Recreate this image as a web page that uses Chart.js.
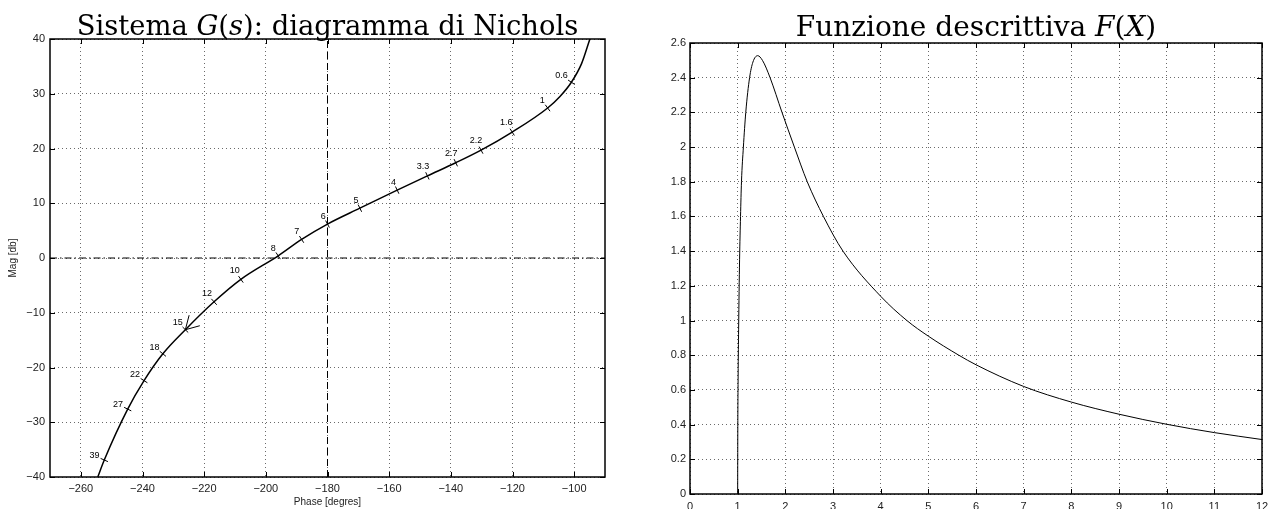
<!DOCTYPE html>
<html>
<head>
<meta charset="utf-8">
<script src="https://cdn.jsdelivr.net/npm/chart.js@4.4.0/dist/chart.umd.min.js"></script>
<style>
  html, body { margin: 0; padding: 0; background: #fff; overflow: hidden; }
  #nichols { position: absolute; left: 0; top: 0; }
  #descr { position: absolute; left: 630px; top: 0; }
</style>
</head>
<body>
<canvas id="nichols" width="620" height="509"></canvas>
<canvas id="descr" width="647" height="509"></canvas>
<script>
// --- Nichols curve of G(s) (phase in degrees, magnitude in dB)
const curvePhase = [-254.5, -252.4, -244.8, -239.5, -233.4, -226.1, -216.8, -208.1, -196.0, -188.4, -180.0,
                    -169.5, -157.4, -147.6, -138.4, -130.2, -120.1, -108.6, -104.6, -100.9, -97.6, -94.9];
const curveMag   = [-40, -36.9, -27.6, -22.4, -17.5, -13.1, -8.0, -3.9, 0.4, 3.4, 6.2,
                    9.1, 12.4, 15.0, 17.4, 19.7, 23.0, 27.4, 29.5, 32.1, 35.5, 40];

// frequency marks along the curve
const freqLabels = ['39', '27', '22', '18', '15', '12', '10', '8', '7', '6', '5', '4', '3.3', '2.7', '2.2', '1.6', '1', '0.6'];
const freqPhase  = [-252.4, -244.8, -239.5, -233.4, -226.1, -216.8, -208.1, -196.0, -188.4, -180.0, -169.5,
                    -157.4, -147.6, -138.4, -130.2, -120.1, -108.6, -100.9];
const freqMag    = [-36.9, -27.6, -22.4, -17.5, -13.1, -8.0, -3.9, 0.4, 3.4, 6.2, 9.1,
                    12.4, 15.0, 17.4, 19.7, 23.0, 27.4, 32.1];
const arrowAt = '15';

const critPhase = -180;
const critMag = 0;
const phaseTicks = [-260, -240, -220, -200, -180, -160, -140, -120, -100];
const magTicks = [-40, -30, -20, -10, 0, 10, 20, 30, 40];

// --- describing function F(X)
const fX = [1.0, 1.002, 1.01, 1.02, 1.04, 1.06, 1.08, 1.12, 1.17, 1.25, 1.32, 1.42, 1.52, 1.68, 1.93,
            2.19, 2.46, 2.80, 3.21, 4, 4.55, 5, 5.64, 6, 7, 8, 9, 10, 11, 12];
const fY = [0, 0.3, 0.68, 0.95, 1.35, 1.6, 1.8, 2.0, 2.2, 2.4, 2.49, 2.527, 2.5, 2.4, 2.2,
            2.0, 1.8, 1.6, 1.4, 1.14, 1.0, 0.91, 0.8, 0.745, 0.62, 0.53, 0.46, 0.402, 0.354, 0.314];
const xTicksF = [0, 1, 2, 3, 4, 5, 6, 7, 8, 9, 10, 11, 12];
const yTicksF = [0, 0.2, 0.4, 0.6, 0.8, 1, 1.2, 1.4, 1.6, 1.8, 2, 2.2, 2.4, 2.6];

const sans = "'Liberation Sans', Arial, sans-serif";
const serif = "'DejaVu Serif', serif";
Chart.defaults.color = '#222';
Chart.defaults.animation = false;

const minus = v => v < 0 ? '\u2212' + Math.abs(v) : String(v);
const fixedTicks = list => scale => { scale.ticks = list.map(v => ({ value: v })); };

// tangent of the Nichols curve in pixel space, near a given phase
function curveTangent(xs, ys, phase) {
  let k = 0, best = Infinity;
  curvePhase.forEach((p, i) => {
    const d = Math.abs(p - phase);
    if (d < best) { best = d; k = i; }
  });
  const a = Math.max(k - 1, 0), b = Math.min(k + 1, curvePhase.length - 1);
  const dx = xs.getPixelForValue(curvePhase[b]) - xs.getPixelForValue(curvePhase[a]);
  const dy = ys.getPixelForValue(curveMag[b]) - ys.getPixelForValue(curveMag[a]);
  const len = Math.hypot(dx, dy);
  return { x: dx / len, y: dy / len };
}

// matlab style box with inward ticks on all four sides
const matlabBox = {
  id: 'matlabBox',
  afterDatasetsDraw(chart) {
    const { ctx, chartArea: a, scales: { x: xs, y: ys } } = chart;
    ctx.save();
    ctx.strokeStyle = '#000';
    ctx.lineWidth = 1;
    ctx.beginPath();
    xs.ticks.forEach(t => {
      const px = Math.round(xs.getPixelForValue(t.value)) + 0.5;
      ctx.moveTo(px, a.bottom); ctx.lineTo(px, a.bottom - 5);
      ctx.moveTo(px, a.top); ctx.lineTo(px, a.top + 5);
    });
    ys.ticks.forEach(t => {
      const py = Math.round(ys.getPixelForValue(t.value)) + 0.5;
      ctx.moveTo(a.left, py); ctx.lineTo(a.left + 5, py);
      ctx.moveTo(a.right, py); ctx.lineTo(a.right - 5, py);
    });
    ctx.stroke();
    ctx.lineWidth = 1.5;
    ctx.strokeRect(a.left, a.top, a.width, a.height);
    ctx.restore();
  }
};

// title with italic math parts
const mixedTitle = {
  id: 'mixedTitle',
  afterDraw(chart, args, opts) {
    const { ctx, chartArea: a } = chart;
    ctx.save();
    const fonts = opts.parts.map(p => (p[1] ? 'italic ' : '') + opts.size + 'px ' + serif);
    let total = 0;
    const widths = opts.parts.map((p, i) => { ctx.font = fonts[i]; const w = ctx.measureText(p[0]).width; total += w; return w; });
    let x = (a.left + a.right) / 2 - total / 2;
    ctx.fillStyle = '#000';
    ctx.textBaseline = 'alphabetic';
    opts.parts.forEach((p, i) => {
      ctx.font = fonts[i];
      ctx.fillText(p[0], x, opts.baseline);
      x += widths[i];
    });
    ctx.restore();
  }
};

// frequency labels next to the marks, plus the direction arrow
const nicholsLabels = {
  id: 'nicholsLabels',
  afterDatasetsDraw(chart) {
    const { ctx, scales: { x: xs, y: ys } } = chart;
    const meta = chart.getDatasetMeta(1);
    ctx.save();
    ctx.font = '9px ' + sans;
    ctx.fillStyle = '#000';
    ctx.textAlign = 'center';
    ctx.textBaseline = 'middle';
    meta.data.forEach((pt, i) => {
      const t = curveTangent(xs, ys, freqPhase[i]);
      const nx = t.y, ny = -t.x;
      const w = ctx.measureText(freqLabels[i]).width;
      const d = 5 + Math.abs(nx) * w / 2 + Math.abs(ny) * 3;
      ctx.fillText(freqLabels[i], pt.x + nx * d, pt.y + ny * d);
    });
    const k = freqLabels.indexOf(arrowAt);
    const tip = meta.data[k];
    const t = curveTangent(xs, ys, freqPhase[k]);
    ctx.strokeStyle = '#000';
    ctx.lineWidth = 1;
    ctx.beginPath();
    [-Math.PI / 6, Math.PI / 6].forEach(r => {
      const vx = t.x * Math.cos(r) - t.y * Math.sin(r);
      const vy = t.x * Math.sin(r) + t.y * Math.cos(r);
      ctx.moveTo(tip.x, tip.y);
      ctx.lineTo(tip.x + vx * 15, tip.y + vy * 15);
    });
    ctx.stroke();
    ctx.restore();
  }
};

const gridOpts = { color: '#6a6a6a', lineWidth: 1, drawTicks: false };
const borderOpts = { display: false, dash: [1, 3] };

new Chart(document.getElementById('nichols'), {
  type: 'scatter',
  data: {
    datasets: [
      {
        data: curvePhase.map((x, i) => ({ x, y: curveMag[i] })),
        showLine: true, borderColor: '#000', borderWidth: 1.5, pointRadius: 0,
        cubicInterpolationMode: 'monotone'
      },
      {
        data: freqPhase.map((x, i) => ({ x, y: freqMag[i] })),
        showLine: false, pointStyle: 'line', pointRadius: 4, pointBorderWidth: 1,
        borderColor: '#000', backgroundColor: '#000',
        pointRotation: c => {
          const t = curveTangent(c.chart.scales.x, c.chart.scales.y, freqPhase[c.dataIndex]);
          return Math.atan2(t.x, -t.y) * 180 / Math.PI;
        }
      },
      {
        data: [{ x: critPhase, y: -40 }, { x: critPhase, y: 40 }],
        showLine: true, borderColor: '#000', borderWidth: 1, borderDash: [7, 4], pointRadius: 0
      },
      {
        data: [{ x: -270, y: critMag }, { x: -90, y: critMag }],
        showLine: true, borderColor: '#000', borderWidth: 1, borderDash: [7, 3, 1.5, 3], pointRadius: 0
      }
    ]
  },
  options: {
    responsive: false,
    layout: { padding: { top: 39, right: 15, left: 0, bottom: 0 } },
    plugins: {
      legend: { display: false }, tooltip: { enabled: false },
      mixedTitle: {
        size: 27.4, baseline: 35,
        parts: [['Sistema ', false], ['G', true], ['(', false], ['s', true], ['): diagramma di Nichols', false]]
      }
    },
    scales: {
      x: {
        type: 'linear', min: -270, max: -90,
        afterBuildTicks: fixedTicks(phaseTicks),
        afterFit: s => { s.height = 32; },
        grid: gridOpts, border: borderOpts,
        ticks: { callback: minus, font: { family: sans, size: 11 }, padding: 5, maxRotation: 0, autoSkip: false },
        title: { display: true, text: 'Phase [degres]', font: { family: sans, size: 10 }, padding: { top: 0, bottom: 1 } }
      },
      y: {
        type: 'linear', min: -40, max: 40,
        afterBuildTicks: fixedTicks(magTicks),
        afterFit: s => { s.width = 50; },
        grid: gridOpts, border: borderOpts,
        ticks: { callback: minus, font: { family: sans, size: 11 }, padding: 5, autoSkip: false },
        title: { display: true, text: 'Mag [db]', font: { family: sans, size: 10 }, padding: { top: 7, bottom: 0 } }
      }
    }
  },
  plugins: [matlabBox, mixedTitle, nicholsLabels]
});

new Chart(document.getElementById('descr'), {
  type: 'scatter',
  data: {
    datasets: [{
      data: fX.map((x, i) => ({ x, y: fY[i] })),
      showLine: true, borderColor: '#000', borderWidth: 1, pointRadius: 0,
      cubicInterpolationMode: 'monotone'
    }]
  },
  options: {
    responsive: false,
    layout: { padding: { top: 43, right: 15, left: 0, bottom: 0 } },
    plugins: {
      legend: { display: false }, tooltip: { enabled: false },
      mixedTitle: {
        size: 28, baseline: 36,
        parts: [['Funzione descrittiva ', false], ['F', true], ['(', false], ['X', true], [')', false]]
      }
    },
    scales: {
      x: {
        type: 'linear', min: 0, max: 12,
        afterBuildTicks: fixedTicks(xTicksF),
        afterFit: s => { s.height = 15; },
        grid: gridOpts, border: borderOpts,
        ticks: { font: { family: sans, size: 11 }, padding: 6, maxRotation: 0, autoSkip: false }
      },
      y: {
        type: 'linear', min: 0, max: 2.6,
        afterBuildTicks: fixedTicks(yTicksF),
        afterFit: s => { s.width = 60; },
        grid: gridOpts, border: borderOpts,
        ticks: { callback: v => String(+v.toFixed(1)), font: { family: sans, size: 11 }, padding: 4, autoSkip: false }
      }
    }
  },
  plugins: [matlabBox, mixedTitle]
});
</script>
</body>
</html>
